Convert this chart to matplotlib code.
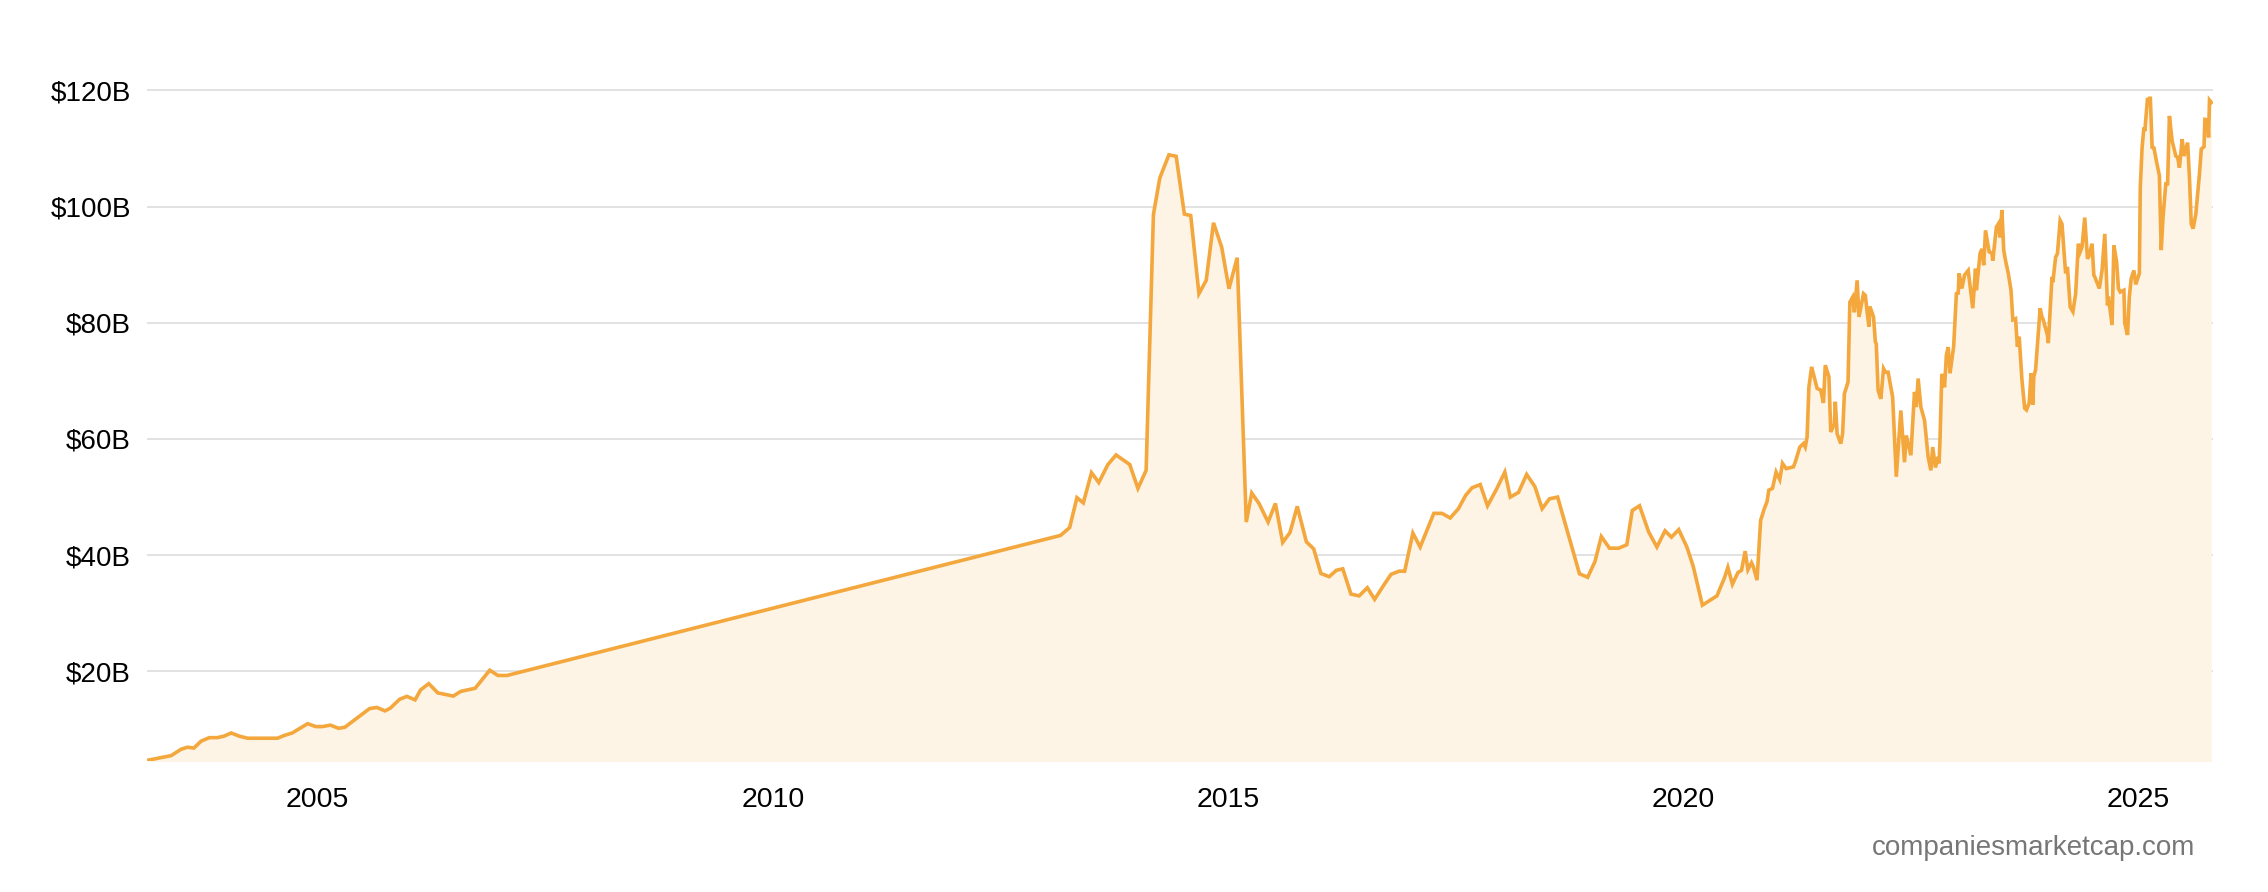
import matplotlib
matplotlib.use("Agg")
import matplotlib.pyplot as plt

plt.rcParams["font.family"] = ["Liberation Sans", "DejaVu Sans"]

# market cap in billions USD, dates as decimal years
years = [
    2003.13, 2003.39, 2003.50, 2003.57, 2003.64, 2003.72, 2003.81, 2003.90, 2003.97, 2004.05,
    2004.14, 2004.23, 2004.56, 2004.63, 2004.72, 2004.89, 2004.98, 2005.05, 2005.14, 2005.23,
    2005.30, 2005.57, 2005.65, 2005.74, 2005.80, 2005.90, 2005.98, 2006.07, 2006.13, 2006.22,
    2006.32, 2006.49, 2006.57, 2006.73, 2006.89, 2006.98, 2007.08,
    2013.16, 2013.26, 2013.34, 2013.41, 2013.50, 2013.58, 2013.68, 2013.77, 2013.92, 2014.01,
    2014.10, 2014.18, 2014.25, 2014.35, 2014.43, 2014.52, 2014.59, 2014.68, 2014.76, 2014.84,
    2014.93, 2015.01, 2015.10, 2015.20, 2015.26, 2015.34, 2015.44, 2015.52, 2015.60, 2015.68,
    2015.76, 2015.86, 2015.94, 2016.02, 2016.11, 2016.19, 2016.26, 2016.35, 2016.44, 2016.53,
    2016.61, 2016.70, 2016.79, 2016.88,
    2016.94, 2017.03, 2017.11, 2017.26, 2017.35, 2017.44, 2017.53, 2017.61, 2017.68, 2017.77,
    2017.85, 2017.95, 2018.04, 2018.10, 2018.19, 2018.28, 2018.37, 2018.45, 2018.53, 2018.62,
    2018.86, 2018.95, 2019.03, 2019.10, 2019.19, 2019.29, 2019.38, 2019.44, 2019.52, 2019.62,
    2019.71, 2019.80, 2019.87, 2019.95, 2020.04, 2020.11,
    2020.21, 2020.37, 2020.45, 2020.49, 2020.54, 2020.60, 2020.64, 2020.68, 2020.71, 2020.75,
    2020.77, 2020.81, 2020.85, 2020.89, 2020.92, 2020.94, 2020.98, 2021.02, 2021.06, 2021.09,
    2021.13, 2021.21, 2021.23, 2021.28, 2021.32, 2021.34, 2021.36, 2021.38, 2021.41, 2021.47,
    2021.51, 2021.54, 2021.56, 2021.60, 2021.62, 2021.66, 2021.67, 2021.69, 2021.73, 2021.75,
    2021.77, 2021.81, 2021.83, 2021.86, 2021.88, 2021.91, 2021.93, 2021.98, 2022.00, 2022.02,
    2022.04, 2022.05, 2022.09, 2022.11, 2022.12, 2022.14, 2022.17, 2022.20, 2022.22, 2022.25,
    2022.30, 2022.32, 2022.34, 2022.39, 2022.43, 2022.45, 2022.50, 2022.54, 2022.56, 2022.58,
    2022.61, 2022.65, 2022.69, 2022.72, 2022.74, 2022.77, 2022.80, 2022.81, 2022.82, 2022.84,
    2022.87, 2022.89, 2022.91,
    2022.93, 2022.97, 2023.00, 2023.02, 2023.03, 2023.06, 2023.09, 2023.13, 2023.18, 2023.21,
    2023.22, 2023.26, 2023.28, 2023.30, 2023.32, 2023.36, 2023.39, 2023.40, 2023.44, 2023.46,
    2023.48, 2023.50, 2023.52, 2023.54, 2023.57, 2023.60, 2023.62, 2023.65, 2023.67, 2023.69,
    2023.72, 2023.75, 2023.77, 2023.80, 2023.82, 2023.84, 2023.85, 2023.87, 2023.92, 2023.94,
    2023.95, 2024.00, 2024.01, 2024.05, 2024.06, 2024.09, 2024.11, 2024.14, 2024.16, 2024.20,
    2024.22, 2024.25, 2024.28, 2024.31, 2024.34, 2024.36, 2024.38, 2024.41, 2024.44, 2024.46,
    2024.49, 2024.51, 2024.52, 2024.57, 2024.60, 2024.63, 2024.66, 2024.67, 2024.71, 2024.73,
    2024.76, 2024.78, 2024.80, 2024.84, 2024.85, 2024.88, 2024.90, 2024.92, 2024.95, 2024.97,
    2025.01, 2025.02, 2025.04, 2025.06, 2025.07, 2025.10, 2025.12, 2025.13, 2025.15, 2025.17,
    2025.20, 2025.23, 2025.25, 2025.27, 2025.30, 2025.32, 2025.34, 2025.37, 2025.41, 2025.43,
    2025.45, 2025.48, 2025.50, 2025.54, 2025.56, 2025.58, 2025.60, 2025.63, 2025.67, 2025.69,
    2025.72, 2025.73, 2025.76, 2025.77, 2025.78, 2025.80,
]
market_cap = [
    4.7, 5.5, 6.6, 6.95, 6.8, 8.0, 8.6, 8.6, 8.85, 9.4,
    8.85, 8.5, 8.5, 8.96, 9.4, 11.0, 10.5, 10.5, 10.75, 10.2,
    10.4, 13.6, 13.8, 13.2, 13.7, 15.2, 15.7, 15.1, 16.8, 17.9,
    16.3, 15.75, 16.55, 17.1, 20.2, 19.3, 19.3,
    43.4, 44.75, 49.9, 49.0, 54.2, 52.5, 55.6, 57.25, 55.6, 51.5,
    54.6, 98.6, 104.9, 108.9, 108.65, 98.7, 98.45, 85.0, 87.3, 97.2,
    93.0, 85.85, 91.2, 45.7, 50.7, 48.9, 45.7, 48.9, 42.2, 43.9,
    48.4, 42.3, 41.1, 36.85, 36.3, 37.4, 37.65, 33.3, 33.0, 34.4,
    32.4, 34.6, 36.7, 37.25,
    37.25, 43.8, 41.4, 47.2, 47.2, 46.4, 48.0, 50.3, 51.6, 52.15,
    48.5, 51.4, 54.3, 50.0, 50.8, 53.9, 51.8, 48.0, 49.7, 50.0,
    36.8, 36.2, 38.9, 43.2, 41.2, 41.2, 41.8, 47.7, 48.5, 44.0,
    41.4, 44.2, 43.1, 44.4, 41.4, 38.05,
    31.4, 33.0, 36.0, 37.9, 35.0, 37.0, 37.4, 40.7, 37.5, 38.7,
    38.0, 35.7, 46.0, 48.0, 49.2, 51.2, 51.5, 54.3, 53.0, 55.8,
    54.9, 55.2, 56.0, 58.6, 59.2, 58.6, 60.3, 68.9, 72.4, 68.7,
    68.4, 66.2, 72.7, 70.7, 61.2, 62.6, 66.4, 60.9, 59.2, 60.9,
    67.8, 69.8, 83.55, 84.4, 81.8, 87.3, 81.0, 85.0, 84.7, 81.8,
    79.3, 82.8, 81.0, 76.7, 76.4, 68.4, 66.9, 72.1, 71.5, 71.5,
    67.2, 60.3, 53.5, 64.9, 56.0, 60.6, 57.2, 68.1, 65.5, 70.4,
    65.5, 63.2, 56.9, 54.6, 58.6, 55.1, 56.9, 55.8, 59.8, 71.2,
    68.9, 74.4, 75.8,
    71.3, 75.9, 85.0, 85.1, 88.5, 85.9, 88.2, 89.0, 82.5, 89.3,
    85.6, 91.9, 92.7, 89.9, 95.9, 92.2, 92.0, 90.7, 96.5, 97.0,
    94.7, 99.4, 92.5, 90.7, 88.5, 85.6, 80.5, 80.7, 75.9, 77.6,
    70.2, 65.3, 65.0, 66.2, 71.3, 65.9, 70.7, 71.9, 82.5, 81.0,
    80.7, 77.9, 76.5, 87.9, 87.0, 91.3, 91.9, 97.6, 97.0, 88.5,
    89.6, 82.7, 81.9, 85.0, 93.6, 92.2, 93.0, 98.1, 91.0, 91.6,
    93.6, 88.2, 87.9, 85.9, 89.0, 95.3, 83.0, 84.5, 79.6, 93.3,
    90.5, 85.9, 85.3, 85.6, 79.9, 77.9, 84.5, 87.6, 89.0, 86.6,
    88.5, 103.3, 110.2, 113.6, 113.0, 118.7, 117.6, 118.9, 110.2, 110.1,
    107.6, 105.3, 92.5, 98.2, 103.9, 103.9, 115.6, 111.3, 108.7, 108.5,
    106.7, 111.6, 108.7, 111.0, 105.0, 97.0, 96.2, 98.7, 105.6, 109.9,
    110.3, 115.0, 114.9, 111.9, 118.3, 117.9,
]

y_ticks = [20, 40, 60, 80, 100, 120]
y_labels = ["$20B", "$40B", "$60B", "$80B", "$100B", "$120B"]
x_ticks = [2005, 2010, 2015, 2020, 2025]
x_labels = ["2005", "2010", "2015", "2020", "2025"]

fig = plt.figure(figsize=(22.68, 8.92), dpi=100)
ax = fig.add_axes([0.065, 0.147, 0.9108, 0.755])

ax.fill_between(years, market_cap, 0, color="#fdf4e5", linewidth=0, zorder=2)
ax.plot(years, market_cap, color="#f3a73c", linewidth=2.6, zorder=3,
        solid_joinstyle="miter")

ax.set_xlim(years[0], years[-1] + 0.02)
ax.set_ylim(4.6, 120.5)

ax.set_yticks(y_ticks)
ax.set_yticklabels(y_labels)
ax.set_xticks(x_ticks)
ax.set_xticklabels(x_labels)
ax.tick_params(axis="y", length=0, pad=12, labelsize=20, colors="black")
ax.tick_params(axis="x", length=0, pad=19, labelsize=20.5, colors="black")

ax.set_axisbelow(True)
ax.grid(axis="y", color="#dddddd", linewidth=1.2)
ax.grid(axis="x", visible=False)
for s in ax.spines.values():
    s.set_visible(False)

fig.text(0.968, 0.049, "companiesmarketcap.com", ha="right", va="center",
         fontsize=20, color="#777777")

fig.savefig("out.png", dpi=100)
